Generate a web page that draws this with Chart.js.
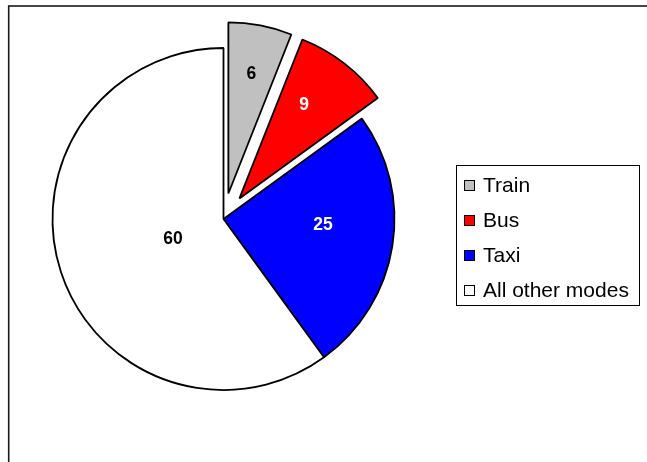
<!DOCTYPE html>
<html>
<head>
<meta charset="utf-8">
<script src="https://cdn.jsdelivr.net/npm/chart.js@4/dist/chart.umd.min.js"></script>
<style>
  html, body { margin: 0; padding: 0; background: #ffffff; }
  #c { display: block; }
</style>
</head>
<body>
<canvas id="c" width="647" height="462"></canvas>
<script>
// ---- data ----
const categories = ['Train', 'Bus', 'Taxi', 'All other modes'];
const shares = [6, 9, 25, 60];

// ---- styles ----
const sliceColors = ['#C0C0C0', '#FF0000', '#0000FF', '#FFFFFF'];
const labelColors = ['#000000', '#FFFFFF', '#FFFFFF', '#000000'];
const explodePx = [26, 26, 0, 0];
const labelRadiusFrac = [0.716, 0.67, 0.582, 0.316];
const labelAngleShiftDeg = [0, -3.4, -6.1, -2.6];

const framePlugin = {
  id: 'frame',
  beforeDraw(chart) {
    const ctx = chart.ctx;
    ctx.save();
    ctx.fillStyle = '#ffffff';
    ctx.fillRect(0, 0, chart.width, chart.height);
    ctx.strokeStyle = '#1a1a1a';
    ctx.lineWidth = 1.6;
    ctx.strokeRect(8.7, 6, 700, 500);
    ctx.restore();
  }
};

const explodePlugin = {
  id: 'explode',
  afterUpdate(chart) {
    chart.getDatasetMeta(0).data.forEach(a => { a._exploded = false; });
  },
  beforeDatasetsDraw(chart) {
    chart.getDatasetMeta(0).data.forEach((a, i) => {
      if (!a._exploded) {
        const mid = (a.startAngle + a.endAngle) / 2;
        a.x += Math.cos(mid) * explodePx[i];
        a.y += Math.sin(mid) * explodePx[i];
        a._exploded = true;
      }
    });
  }
};

const labelPlugin = {
  id: 'sliceLabels',
  afterDatasetsDraw(chart) {
    const ctx = chart.ctx;
    const meta = chart.getDatasetMeta(0);
    ctx.save();
    ctx.font = 'bold 17.5px "Liberation Sans", Arial, sans-serif';
    ctx.textAlign = 'center';
    ctx.textBaseline = 'middle';
    meta.data.forEach((a, i) => {
      const mid = (a.startAngle + a.endAngle) / 2 + labelAngleShiftDeg[i] * Math.PI / 180;
      const r = a.outerRadius * labelRadiusFrac[i];
      ctx.fillStyle = labelColors[i];
      ctx.fillText(String(shares[i]), a.x + Math.cos(mid) * r, a.y + Math.sin(mid) * r + 1);
    });
    ctx.restore();
  }
};

const legendPlugin = {
  id: 'boxLegend',
  afterDraw(chart) {
    const ctx = chart.ctx;
    const bx = 456.5, by = 165.5, bw = 183, bh = 140;
    ctx.save();
    ctx.fillStyle = '#ffffff';
    ctx.fillRect(bx, by, bw, bh);
    ctx.strokeStyle = '#000000';
    ctx.lineWidth = 1;
    ctx.strokeRect(bx, by, bw, bh);
    ctx.font = '21px "Liberation Sans", Arial, sans-serif';
    ctx.textBaseline = 'middle';
    ctx.textAlign = 'left';
    const rowY = [185.5, 220.5, 255.5, 290.5];
    categories.forEach((c, i) => {
      const y = rowY[i];
      ctx.fillStyle = sliceColors[i];
      ctx.fillRect(464.5, y - 5, 10, 10);
      ctx.strokeStyle = '#000000';
      ctx.strokeRect(464.5, y - 5, 10, 10);
      ctx.fillStyle = '#000000';
      ctx.fillText(c, 483, y + 1);
    });
    ctx.restore();
  }
};

new Chart(document.getElementById('c'), {
  type: 'pie',
  data: {
    labels: categories,
    datasets: [{
      data: shares,
      backgroundColor: sliceColors,
      borderColor: '#000000',
      borderWidth: 1.8,
      radius: 171
    }]
  },
  options: {
    responsive: false,
    devicePixelRatio: 1,
    animation: false,
    events: [],
    layout: { padding: { left: 30, right: 230, top: 25, bottom: 49 } },
    plugins: {
      legend: { display: false },
      tooltip: { enabled: false },
      title: { display: false }
    }
  },
  plugins: [framePlugin, explodePlugin, labelPlugin, legendPlugin]
});
</script>
</body>
</html>
